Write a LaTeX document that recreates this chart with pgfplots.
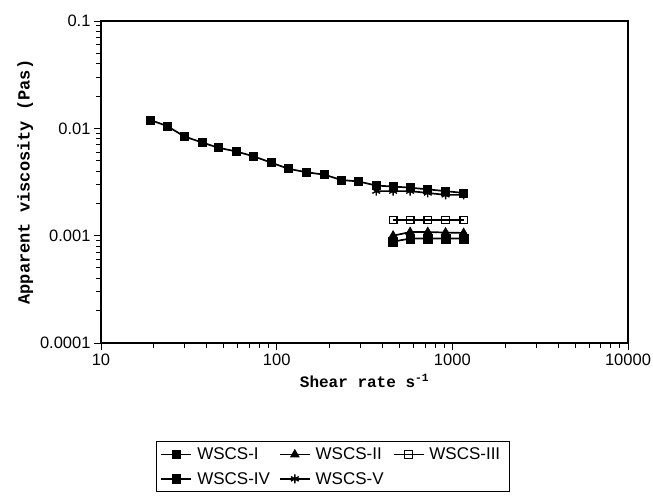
\documentclass[border=0pt]{standalone}
\usepackage{pgfplots}
\pgfplotsset{compat=1.18}
\usepackage{fontspec}
\setmainfont{Liberation Sans}
\newfontfamily\labfont{Liberation Mono}
\begin{document}
\begin{tikzpicture}
\useasboundingbox (-101pt,-154pt) rectangle (552pt,343pt);
\begin{axis}[
  at={(0pt,0pt)}, anchor=south west,
  width=527pt, height=322pt, scale only axis,
  xmode=log, ymode=log,
  xmin=10, xmax=10000, ymin=0.0001, ymax=0.1,
  axis line style={line width=1.2pt},
  tick align=outside, xtick pos=bottom, ytick pos=left,
  major tick length=7pt, minor tick length=5pt,
  every tick/.style={line width=1pt, black},
  xtick={10,100,1000,10000}, xticklabels={10,100,1000,10000},
  ytick={0.0001,0.001,0.01,0.1}, yticklabels={0.0001,0.001,0.01,0.1},
  ticklabel style={font=\fontsize{16.5}{16.5}\selectfont},
  xlabel={\labfont\bfseries\fontsize{16}{16}\selectfont Shear rate s\textsuperscript{-1}},
  ylabel={\labfont\bfseries\fontsize{17}{17}\selectfont Apparent viscosity (Pas)},
  xlabel style={yshift=-2pt},
  legend style={at={(0.44,-0.305)}, anchor=north, legend columns=3,
    draw=black, line width=1.2pt, font=\fontsize{17}{17}\selectfont,
    row sep=7pt, inner xsep=4pt, inner ysep=4pt,
    nodes={inner xsep=5pt},
    /tikz/every even column/.append style={column sep=4pt}},
  legend cell align=left,
  legend image code/.code={\draw[mark repeat=2,mark phase=2,#1] plot coordinates {(0pt,0pt)(15pt,0pt)(30pt,0pt)};},
]
\addplot[black, line width=1.7pt, mark=square*, mark size=4pt, mark options={solid, line width=0.6pt}]
coordinates {(19.0,0.0120)(23.8,0.0105)(29.8,0.0084)(37.5,0.0074)(46.5,0.0066)(58.6,0.0061)(73.6,0.0055)(92.9,0.0048)(116.6,0.0042)(147.6,0.0039)(187,0.0037)(234,0.0033)(292,0.0032)(369,0.00293)(460,0.00287)(575,0.0028)(725,0.0027)(915,0.0026)(1160,0.0025)};
\addlegendentry{WSCS-I}
\addplot[black, line width=1.7pt, mark=triangle*, mark size=5pt, mark options={solid, line width=0.6pt}]
coordinates {(460,0.00100)(575,0.00108)(725,0.00108)(915,0.00107)(1160,0.00106)};
\addlegendentry{WSCS-II}
\addplot[black, line width=1.7pt, mark=square, mark size=3.8pt, mark options={solid, line width=1.3pt}]
coordinates {(460,0.0014)(575,0.0014)(725,0.0014)(915,0.0014)(1160,0.0014)};
\addlegendentry{WSCS-III}
\addplot[black, line width=1.7pt, mark=square*, mark size=4.3pt, mark options={solid, line width=0.6pt, rounded corners=1.5pt}]
coordinates {(460,0.00088)(575,0.00094)(725,0.00094)(915,0.00094)(1160,0.00094)};
\addlegendentry{WSCS-IV}
\addplot[black, line width=1.7pt, mark=asterisk, mark size=4.5pt, mark options={solid, line width=1.4pt}]
coordinates {(369,0.0026)(460,0.0026)(575,0.0026)(725,0.0025)(915,0.0024)(1160,0.0024)};
\addlegendentry{WSCS-V}
\end{axis}
\end{tikzpicture}
\end{document}
